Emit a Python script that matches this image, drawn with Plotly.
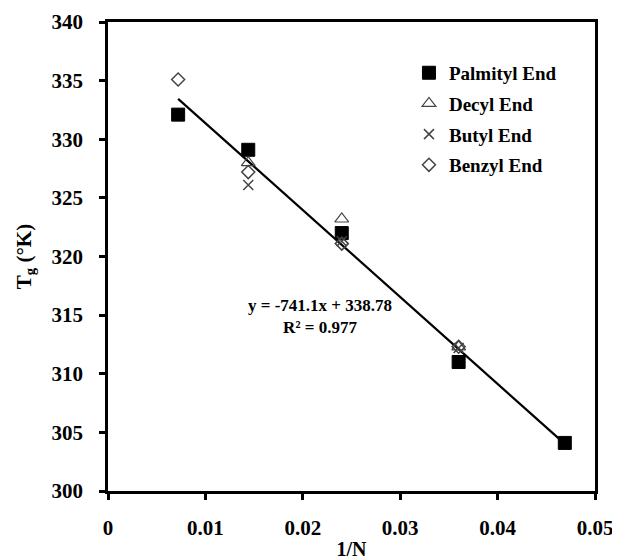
import plotly.graph_objects as go

# Data
palmityl_x = [0.0072, 0.0144, 0.0240, 0.0360, 0.0469]
palmityl_y = [332.1, 329.1, 322.0, 311.0, 304.1]
decyl_x = [0.0144, 0.0240, 0.0360]
decyl_y = [328.0, 323.2, 312.3]
butyl_x = [0.0144, 0.0240, 0.0360]
butyl_y = [326.1, 321.3, 312.2]
benzyl_x = [0.0072, 0.0144, 0.0240, 0.0360]
benzyl_y = [335.1, 327.2, 321.1, 312.3]

fit_slope = -741.1
fit_intercept = 338.78
fit_label = "y = -741.1x + 338.78<br>R² = 0.977"

x_ticks = [0, 0.01, 0.02, 0.03, 0.04, 0.05]
x_tick_text = ["0", "0.01", "0.02", "0.03", "0.04", "0.05"]
y_ticks = [300, 305, 310, 315, 320, 325, 330, 335, 340]

FONT = "Liberation Serif"

fig = go.Figure()

all_x = palmityl_x + decyl_x + butyl_x + benzyl_x
fx = [min(all_x), max(all_x)]
fy = [fit_slope * v + fit_intercept for v in fx]

fig.add_trace(go.Scatter(x=fx, y=fy, mode="lines", line=dict(color="black", width=2.2),
                         showlegend=False, hoverinfo="skip"))

series = [
    ("Palmityl End", palmityl_x, palmityl_y, dict(symbol="square", size=13, color="black",
                                                    line=dict(color="black", width=1))),
    ("Decyl End", decyl_x, decyl_y, dict(symbol="triangle-up-open", size=12, color="#444",
                                           line=dict(color="#444", width=1.2))),
    ("Butyl End", butyl_x, butyl_y, dict(symbol="x-thin-open", size=10, color="#444",
                                           line=dict(color="#444", width=1.5))),
    ("Benzyl End", benzyl_x, benzyl_y, dict(symbol="diamond-open", size=10, color="#444",
                                             line=dict(color="#444", width=1.5))),
]
for i, (name, xs, ys, mk) in enumerate(series):
    fig.add_trace(go.Scatter(x=xs, y=ys, mode="markers", name=name, marker=mk,
                             legendgroup=f"g{i}"))

fig.add_annotation(x=0.0218, y=314.9, xref="x", yref="y", text=fit_label, showarrow=False,
                   font=dict(family=FONT, size=17, color="black", weight="bold"),
                   align="center")

axis_common = dict(showline=True, linecolor="black", linewidth=2.5, mirror=True,
                   ticks="outside", ticklen=6, tickwidth=2.5, tickcolor="black",
                   showgrid=False, zeroline=False, automargin=False,
                   ticklabeloverflow="allow",
                   tickfont=dict(family=FONT, size=21, color="black", weight="bold"))

fig.update_xaxes(range=[0, 0.05], tickvals=x_ticks, ticktext=x_tick_text,
                 ticklabelstandoff=10,
                 title=dict(text="<b>1/N</b>", font=dict(family=FONT, size=20, color="black"),
                            standoff=4),
                 **axis_common)
fig.update_yaxes(range=[300, 340], tickvals=y_ticks, ticklabelstandoff=12,
                 title=dict(text="<b>T<sub>g</sub> (°K)</b>",
                            font=dict(family=FONT, size=21, color="black"), standoff=15),
                 **axis_common)

fig.update_layout(
    width=620, height=558,
    margin=dict(l=100, r=33, t=14, b=75),
    plot_bgcolor="white", paper_bgcolor="white",
    font=dict(family=FONT, color="black", size=17),
    legend=dict(x=0.618, y=0.932, xanchor="left", yanchor="top", bgcolor="rgba(0,0,0,0)",
                traceorder="grouped", tracegroupgap=3,
                font=dict(family=FONT, size=19, color="black", weight="bold"), itemwidth=30),
)

fig.write_html("out.html")
